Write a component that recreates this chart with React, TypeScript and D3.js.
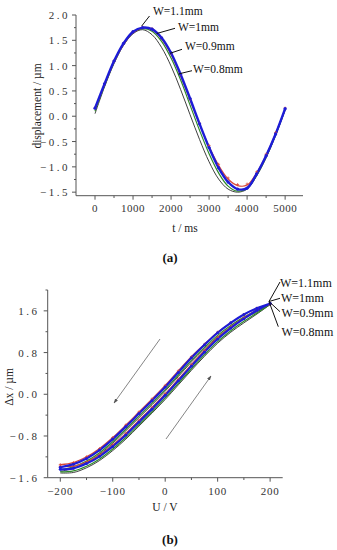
import React from 'react';
import * as d3 from 'd3';

// ---------- Chart (a): displacement vs time ----------
const timeMs = [0, 250, 500, 750, 1000, 1250, 1500, 1750, 2000, 2250, 2500, 2750, 3000, 3250, 3500, 3750, 4000, 4250, 4500, 4750, 5000];
const dispW11 = [0.16, 0.64, 1.09, 1.44, 1.67, 1.75, 1.72, 1.55, 1.25, 0.83, 0.35, -0.15, -0.62, -1.02, -1.30, -1.44, -1.42, -1.14, -0.78, -0.35, 0.15];
const dispW10 = [0.14, 0.62, 1.07, 1.42, 1.65, 1.74, 1.71, 1.53, 1.22, 0.80, 0.32, -0.16, -0.60, -0.97, -1.24, -1.37, -1.36, -1.12, -0.77, -0.34, 0.14];
const dispW09 = [0.10, 0.60, 1.06, 1.42, 1.65, 1.73, 1.68, 1.48, 1.15, 0.72, 0.22, -0.28, -0.74, -1.12, -1.38, -1.48, -1.43, -1.17, -0.81, -0.37, 0.13];
const dispW08 = [0.05, 0.58, 1.04, 1.40, 1.63, 1.71, 1.61, 1.36, 0.99, 0.53, 0.03, -0.46, -0.90, -1.24, -1.44, -1.50, -1.44, -1.18, -0.82, -0.38, 0.12];

const aYMajor = [-1.5, -1.0, -0.5, 0.0, 0.5, 1.0, 1.5, 2.0];
const aYMinor = [-1.25, -0.75, -0.25, 0.25, 0.75, 1.25, 1.75];
const aXMajor = [0, 1000, 2000, 3000, 4000, 5000];
const aXMinor = [500, 1500, 2500, 3500, 4500];

// ---------- Chart (b): hysteresis ----------
const voltage = [-200, -175, -150, -125, -100, -75, -50, -25, 0, 25, 50, 75, 100, 125, 150, 175, 200];
const upW11 = [-1.44, -1.42, -1.33, -1.19, -1.00, -0.78, -0.53, -0.28, -0.02, 0.26, 0.54, 0.81, 1.06, 1.27, 1.45, 1.61, 1.74];
const downW11 = [-1.40, -1.34, -1.23, -1.07, -0.86, -0.62, -0.37, -0.12, 0.14, 0.42, 0.70, 0.95, 1.18, 1.37, 1.53, 1.65, 1.74];
const upW10 = [-1.38, -1.38, -1.30, -1.16, -0.97, -0.75, -0.50, -0.25, 0.01, 0.29, 0.57, 0.84, 1.09, 1.29, 1.47, 1.62, 1.73];
const downW10 = [-1.35, -1.31, -1.20, -1.04, -0.83, -0.59, -0.34, -0.09, 0.17, 0.45, 0.72, 0.96, 1.19, 1.37, 1.53, 1.65, 1.73];
const upW09 = [-1.49, -1.47, -1.38, -1.24, -1.05, -0.83, -0.58, -0.33, -0.07, 0.21, 0.49, 0.76, 1.01, 1.22, 1.40, 1.56, 1.72];
const downW09 = [-1.45, -1.39, -1.28, -1.12, -0.91, -0.67, -0.42, -0.17, 0.09, 0.37, 0.65, 0.90, 1.13, 1.32, 1.48, 1.61, 1.72];
const upW08 = [-1.51, -1.50, -1.41, -1.27, -1.08, -0.86, -0.61, -0.36, -0.10, 0.18, 0.46, 0.73, 0.98, 1.19, 1.37, 1.54, 1.72];
const downW08 = [-1.48, -1.42, -1.31, -1.15, -0.94, -0.70, -0.45, -0.20, 0.06, 0.34, 0.62, 0.87, 1.10, 1.29, 1.45, 1.58, 1.72];

const bYMajor = [-1.6, -0.8, 0.0, 0.8, 1.6];
const bYMinor = [-1.2, -0.4, 0.4, 1.2, 2.0];
const bXMajor = [-200, -100, 0, 100, 200];
const bXMinor = [-150, -50, 50, 150];

const seriesLabels = ['W=1.1mm', 'W=1mm', 'W=0.9mm', 'W=0.8mm'];

const COL = { blue: '#1c1cd8', red: '#d8483a', green: '#2f8a2a', black: '#2a2a2a' };
const AX = '#555';
const FONT = 'Liberation Serif, Times New Roman, serif';

const fmt = (v: number, d: number) => {
  const s = Math.abs(v).toFixed(d);
  return (v < 0 ? '\u2212' : '') + s;
};

export default function App() {
  // scales (a)
  const ax = d3.scaleLinear().domain([-500, 5470]).range([76, 303]);
  const ay = d3.scaleLinear().domain([-1.57, 2.0]).range([195.7, 15]);
  // scales (b)
  const bx = d3.scaleLinear().domain([-224, 224]).range([47.7, 282.7]);
  const by = d3.scaleLinear().domain([-1.6, 2.0]).range([477.7, 290]);

  const lineA = d3.line<number>().x((_, i) => ax(timeMs[i])).y((d) => ay(d)).curve(d3.curveCatmullRom);

  const loopPath = (up: number[], down: number[]) => {
    const pts: [number, number][] = [];
    voltage.forEach((v, i) => pts.push([bx(v), by(up[i])]));
    for (let i = voltage.length - 1; i >= 0; i--) pts.push([bx(voltage[i]), by(down[i])]);
    return d3.line().curve(d3.curveCatmullRom)(pts) || '';
  };

  const aSeries = [
    { d: dispW08, c: COL.black, w: 0.9 },
    { d: dispW09, c: COL.green, w: 1.2 },
    { d: dispW10, c: COL.red, w: 1.2 },
    { d: dispW11, c: COL.blue, w: 2.4 },
  ];
  const bSeries = [
    { u: upW08, d: downW08, c: COL.black, w: 0.9 },
    { u: upW09, d: downW09, c: COL.green, w: 1.2 },
    { u: upW10, d: downW10, c: COL.red, w: 1.2 },
    { u: upW11, d: downW11, c: COL.blue, w: 2.2 },
  ];

  const aLabelPos = [
    { x: 153, y: 14.5, l: [141.7, 26, 149.5, 16] },
    { x: 178, y: 30.5, l: [156.7, 33.5, 175, 28.3] },
    { x: 185, y: 50, l: [170, 53.3, 182, 49.3] },
    { x: 193, y: 72.5, l: [178.3, 74, 192, 70.7] },
  ];
  const bLabelPos = [
    { x: 280, y: 286.5, e: [280, 282] },
    { x: 281, y: 302, e: [280, 298.3] },
    { x: 281.5, y: 317, e: [280, 311.7] },
    { x: 281.5, y: 335.5, e: [278.3, 326.7] },
  ];

  return (
    <svg width={337} height={550} style={{ position: 'absolute', left: 0, top: 0, background: '#fff' }} fontFamily={FONT}>
      <defs>
        <marker id="ah" viewBox="0 0 10 10" refX="9" refY="5" markerWidth="6" markerHeight="6" orient="auto">
          <path d="M0,1.5 L10,5 L0,8.5 Z" fill="#555" />
        </marker>
      </defs>

      {/* ===== Chart (a) ===== */}
      <g>
        {aSeries.map((s, k) => (
          <path key={k} d={lineA(s.d) || ''} fill="none" stroke={s.c} strokeWidth={s.w} />
        ))}
        {dispW10.map((v, i) => (
          <path key={'ra' + i} d={`M${ax(timeMs[i]) - 1.5},${ay(v) - 1} h3 M${ax(timeMs[i])},${ay(v) - 2.5} v3`} stroke={COL.red} strokeWidth={0.8} />
        ))}
        {dispW11.map((v, i) => (
          <circle key={'ba' + i} cx={ax(timeMs[i])} cy={ay(v)} r={1.6} fill={COL.blue} />
        ))}

        {/* axes */}
        <line x1={76} x2={76} y1={ay(2.0)} y2={195.7} stroke={AX} strokeWidth={1} />
        <line x1={76} x2={303} y1={195.7} y2={195.7} stroke={AX} strokeWidth={1} />
        {aYMajor.map((v) => (
          <g key={'ay' + v}>
            <line x1={72} x2={76} y1={ay(v)} y2={ay(v)} stroke={AX} />
            <text x={70} y={ay(v) + 4} textAnchor="end" fontSize={11} letterSpacing={2.5} fill="#333">{fmt(v, 1)}</text>
          </g>
        ))}
        {aYMinor.map((v) => (
          <line key={'aym' + v} x1={74} x2={76} y1={ay(v)} y2={ay(v)} stroke={AX} />
        ))}
        {aXMajor.map((v) => (
          <g key={'ax' + v}>
            <line x1={ax(v)} x2={ax(v)} y1={195.7} y2={199.7} stroke={AX} />
            <text x={ax(v)} y={212} textAnchor="middle" fontSize={11} letterSpacing={0.5} fill="#333">{String(v)}</text>
          </g>
        ))}
        {aXMinor.map((v) => (
          <line key={'axm' + v} x1={ax(v)} x2={ax(v)} y1={195.7} y2={198} stroke={AX} />
        ))}
        <text x={185} y={232} textAnchor="middle" fontSize={11.5} fill="#222">t / ms</text>
        <text transform="translate(41,106) rotate(-90)" textAnchor="middle" fontSize={11.5} fill="#222">displacement / µm</text>

        {seriesLabels.map((t, i) => (
          <g key={'la' + i}>
            <line x1={aLabelPos[i].l[0]} y1={aLabelPos[i].l[1]} x2={aLabelPos[i].l[2]} y2={aLabelPos[i].l[3]} stroke="#111" strokeWidth={1} />
            <text x={aLabelPos[i].x} y={aLabelPos[i].y} fontSize={11.5} fill="#111">{t}</text>
          </g>
        ))}
        <text x={170} y={262} textAnchor="middle" fontSize={13} fontWeight="bold" fill="#111">(a)</text>
      </g>

      {/* ===== Chart (b) ===== */}
      <g>
        {bSeries.map((s, k) => (
          <path key={k} d={loopPath(s.u, s.d)} fill="none" stroke={s.c} strokeWidth={s.w} />
        ))}
        {voltage.map((v, i) => (
          <g key={'rb' + i}>
            <path d={`M${bx(v) - 1.5},${by(downW10[i])} h3 M${bx(v)},${by(downW10[i]) - 1.5} v3`} stroke={COL.red} strokeWidth={0.8} />
            <path d={`M${bx(v) - 1.5},${by(upW10[i])} h3 M${bx(v)},${by(upW10[i]) - 1.5} v3`} stroke={COL.red} strokeWidth={0.8} />
          </g>
        ))}
        {voltage.map((v, i) => (
          <g key={'bb' + i}>
            <circle cx={bx(v)} cy={by(upW11[i])} r={1.5} fill={COL.blue} />
            <circle cx={bx(v)} cy={by(downW11[i])} r={1.5} fill={COL.blue} />
          </g>
        ))}

        {/* arrows */}
        <line x1={160} y1={339} x2={114} y2={403} stroke="#666" strokeWidth={0.8} markerEnd="url(#ah)" />
        <line x1={166} y1={439} x2={211} y2={376} stroke="#666" strokeWidth={0.8} markerEnd="url(#ah)" />

        {/* axes */}
        <line x1={47.7} x2={47.7} y1={290} y2={477.7} stroke={AX} strokeWidth={1} />
        <line x1={47.7} x2={282.7} y1={477.7} y2={477.7} stroke={AX} strokeWidth={1} />
        {bYMajor.map((v) => (
          <g key={'by' + v}>
            <line x1={43.7} x2={47.7} y1={by(v)} y2={by(v)} stroke={AX} />
            <text x={39.5} y={by(v) + 4} textAnchor="end" fontSize={11} letterSpacing={2.5} fill="#333">{fmt(v, 1)}</text>
          </g>
        ))}
        {bYMinor.map((v) => (
          <line key={'bym' + v} x1={45.5} x2={47.7} y1={by(v)} y2={by(v)} stroke={AX} />
        ))}
        {bXMajor.map((v) => (
          <g key={'bx' + v}>
            <line x1={bx(v)} x2={bx(v)} y1={477.7} y2={481.7} stroke={AX} />
            <text x={bx(v)} y={495} textAnchor="middle" fontSize={11} letterSpacing={0.8} fill="#333">{fmt(v, 0)}</text>
          </g>
        ))}
        {bXMinor.map((v) => (
          <line key={'bxm' + v} x1={bx(v)} x2={bx(v)} y1={477.7} y2={480} stroke={AX} />
        ))}
        <text x={165} y={511} textAnchor="middle" fontSize={11.5} fill="#222">U / V</text>
        <text transform="translate(13,387) rotate(-90)" textAnchor="middle" fontSize={11.5} fill="#222">Δx / µm</text>

        {seriesLabels.map((t, i) => (
          <g key={'lb' + i}>
            <line x1={269} y1={301.5} x2={bLabelPos[i].e[0]} y2={bLabelPos[i].e[1]} stroke="#111" strokeWidth={1} />
            <text x={bLabelPos[i].x} y={bLabelPos[i].y} fontSize={12} fill="#111">{t}</text>
          </g>
        ))}
        <text x={170} y={544} textAnchor="middle" fontSize={13} fontWeight="bold" fill="#111">(b)</text>
      </g>
    </svg>
  );
}
